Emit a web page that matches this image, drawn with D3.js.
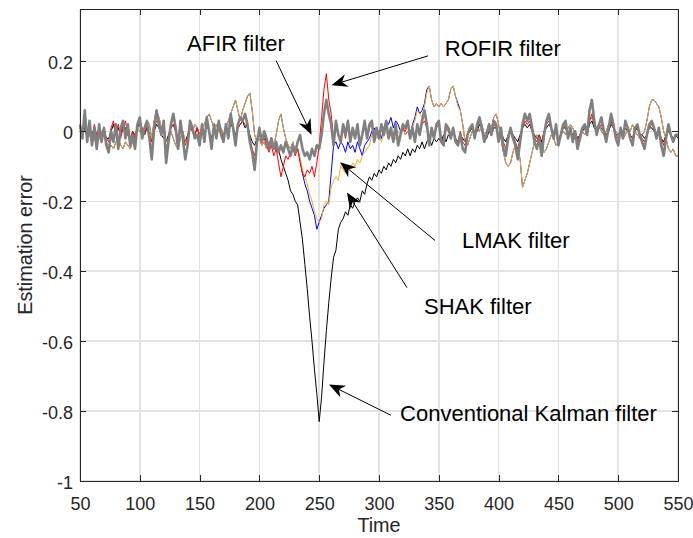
<!doctype html>
<html lang="en">
<head>
<meta charset="UTF-8">
<title>Estimation error</title>
<script src="https://cdn.jsdelivr.net/npm/d3@7"></script>
<style>
  body { margin: 0; background: #fff; }
  text { font-family: "Liberation Sans", Arial, Helvetica, sans-serif; }
</style>
</head>
<body>
<div class="canvas"></div>
<script>
  const time = d3.range(50, 551, 2);

  // AFIR filter (thick gray)
  const afir = [
    0.02, -0.02, 0.06, -0.03, 0.03, -0.04, 0.01, -0.05, 0.02, -0.03,
    0.01, -0.04, -0.06, 0.00, -0.03, 0.02, -0.05, 0.01, 0.03, -0.02,
    0.02, -0.04, -0.01, -0.05, 0.02, 0.04, -0.02, 0.01, 0.03, -0.02,
    -0.08, 0.01, 0.06, 0.02, -0.01, 0.03, -0.09, -0.03, 0.02, 0.05,
    0.01, -0.05, 0.03, -0.02, -0.08, -0.04, 0.03, 0.01, -0.02, -0.01,
    -0.04, 0.02, -0.03, 0.04, 0.00, -0.05, 0.02, -0.02, 0.03, -0.01,
    -0.03, 0.02, -0.02, 0.05, 0.01, -0.04, 0.02, 0.04, 0.03, 0.05,
    0.02, -0.03, -0.06, -0.11, -0.03, 0.01, -0.03, 0.00, -0.02, -0.05,
    -0.02, -0.05, -0.03, -0.06, -0.04, -0.06, -0.03, -0.05, -0.07, -0.04,
    -0.06, -0.03, -0.01, -0.05, -0.07, -0.06, -0.08, -0.05, -0.07, -0.04,
    -0.05, -0.01, 0.05, 0.09, 0.05, 0.02, -0.04, 0.03, -0.01, -0.03,
    0.02, -0.01, 0.03, -0.03, 0.01, -0.02, 0.02, -0.04, -0.01, 0.03,
    -0.02, 0.02, 0.03, -0.03, 0.01, -0.02, 0.02, -0.01, 0.03, -0.02,
    0.01, -0.03, 0.02, -0.04, -0.01, 0.02, 0.01, 0.03, -0.02, 0.01,
    -0.03, 0.02, -0.01, 0.03, 0.06, 0.02, -0.04, 0.01, -0.02, 0.02,
    0.03, -0.03, -0.04, 0.02, 0.01, -0.02, 0.01, -0.03, -0.04, -0.01,
    -0.05, -0.06, -0.01, 0.01, 0.02, -0.02, 0.02, 0.04, 0.01, -0.03,
    -0.01, 0.02, -0.01, 0.03, 0.02, -0.03, 0.01, -0.05, -0.07, -0.02,
    0.01, -0.02, -0.04, -0.08, -0.03, 0.02, 0.05, 0.03, 0.05, 0.01,
    -0.03, -0.05, -0.02, -0.07, -0.01, 0.03, 0.05, 0.01, -0.02, 0.02,
    -0.04, -0.01, 0.02, 0.03, -0.02, 0.01, -0.03, 0.00, -0.05, -0.02,
    0.01, 0.02, -0.01, 0.06, 0.09, 0.03, -0.01, 0.02, 0.04, 0.00,
    -0.03, 0.01, 0.05, 0.02, -0.02, -0.04, 0.01, -0.02, 0.03, 0.01,
    -0.02, -0.04, 0.01, 0.02, -0.01, -0.03, -0.05, -0.01, 0.02, 0.03,
    0.01, -0.02, 0.01, -0.04, -0.07, -0.02, 0.02, -0.01, -0.03, -0.01, -0.01
  ];

  // ROFIR filter (red)
  const rofir = [
    0.01, -0.01, 0.02, -0.02, 0.01, -0.02, 0.02, -0.01, 0.01, -0.02,
    0.00, -0.02, -0.03, 0.01, 0.03, -0.01, 0.02, -0.02, 0.01, 0.03,
    -0.01, -0.03, 0.00, -0.02, 0.01, 0.03, 0.01, -0.01, 0.02, -0.01,
    -0.03, 0.01, 0.03, 0.02, -0.01, 0.01, -0.05, -0.02, 0.01, 0.02,
    0.00, -0.03, 0.02, -0.01, -0.04, -0.02, 0.02, 0.00, -0.01, 0.01,
    -0.02, 0.01, -0.01, 0.02, 0.00, -0.03, 0.01, -0.01, 0.02, 0.00,
    -0.02, 0.01, -0.01, 0.03, 0.01, -0.02, 0.01, 0.02, 0.03, 0.02,
    0.01, -0.02, -0.05, -0.07, -0.03, -0.01, -0.03, -0.02, -0.04, -0.06,
    -0.04, -0.07, -0.05, -0.09, -0.13, -0.10, -0.07, -0.08, -0.06, -0.05,
    -0.07, -0.05, -0.09, -0.12, -0.13, -0.11, -0.12, -0.10, -0.13, -0.09,
    -0.04, 0.04, 0.12, 0.165, 0.09, 0.05, -0.02, 0.02, -0.01, -0.03,
    0.01, -0.02, 0.02, -0.03, 0.00, -0.02, 0.01, -0.03, -0.01, 0.02,
    -0.02, 0.01, 0.02, -0.03, 0.00, -0.02, 0.01, -0.01, 0.02, -0.02,
    0.00, -0.03, 0.01, -0.03, -0.01, 0.01, 0.00, 0.02, -0.02, 0.01,
    -0.02, 0.01, -0.01, 0.02, 0.03, 0.01, -0.02, 0.00, -0.01, 0.01,
    0.02, -0.02, -0.03, 0.01, 0.00, -0.01, 0.01, -0.02, -0.03, 0.00,
    -0.03, -0.04, -0.01, 0.01, 0.01, -0.01, 0.01, 0.03, 0.01, -0.02,
    -0.01, 0.01, -0.01, 0.02, 0.01, -0.02, 0.00, -0.03, -0.05, -0.01,
    0.00, -0.01, -0.03, -0.05, -0.02, 0.01, 0.03, 0.02, 0.03, 0.00,
    -0.02, -0.03, -0.01, -0.04, 0.00, 0.02, 0.03, 0.01, -0.01, 0.01,
    -0.03, -0.01, 0.01, 0.02, -0.01, 0.00, -0.02, 0.00, -0.03, -0.01,
    0.01, 0.01, -0.01, 0.03, 0.05, 0.02, 0.00, 0.01, 0.02, 0.00,
    -0.02, 0.01, 0.03, 0.01, -0.01, -0.02, 0.00, -0.01, 0.02, 0.01,
    -0.01, -0.02, 0.01, 0.01, -0.01, -0.02, -0.03, -0.01, 0.01, 0.02,
    0.01, -0.01, 0.00, -0.02, -0.04, -0.01, 0.01, -0.01, -0.02, -0.01, -0.01
  ];

  // LMAK filter (blue)
  const lmak = [
    0.00, -0.01, 0.02, 0.00, -0.01, -0.03, -0.02, -0.04, -0.02, 0.00,
    -0.01, -0.03, -0.05, -0.04, -0.05, -0.03, -0.02, -0.04, -0.05, -0.03,
    -0.04, -0.05, -0.03, -0.01, 0.01, 0.00, -0.01, 0.01, 0.03, 0.02,
    -0.02, 0.03, 0.06, 0.04, 0.01, 0.02, -0.03, -0.02, 0.00, -0.02,
    -0.04, -0.05, -0.02, 0.00, -0.03, -0.02, 0.01, 0.00, 0.02, 0.01,
    -0.01, 0.01, 0.02, 0.04, 0.05, 0.03, 0.01, 0.02, 0.00, 0.01,
    -0.01, 0.01, 0.03, 0.05, 0.07, 0.09, 0.06, 0.03, 0.06, 0.08,
    0.10, 0.11, 0.06, -0.01, -0.03, -0.02, -0.04, -0.03, -0.05, -0.04,
    -0.02, -0.04, -0.01, 0.03, 0.05, 0.01, -0.02, -0.04, -0.05, -0.03,
    -0.06, -0.05, -0.08, -0.12, -0.15, -0.17, -0.20, -0.22, -0.24, -0.28,
    -0.26, -0.24, -0.22, -0.21, -0.20, -0.12, -0.04, -0.03, -0.05, -0.03,
    -0.04, -0.06, -0.03, -0.05, -0.04, -0.06, -0.03, -0.05, -0.07, -0.04,
    -0.03, -0.02, 0.00, 0.01, -0.01, 0.00, -0.02, 0.01, 0.03, 0.02,
    0.04, 0.01, 0.03, 0.02, 0.00, 0.01, -0.01, 0.00, -0.01, 0.02,
    0.04, 0.07, 0.05, 0.06, 0.08, 0.12, 0.13, 0.09, 0.07, 0.08,
    0.07, 0.08, 0.07, 0.08, 0.09, 0.12, 0.13, 0.10, 0.08, 0.06,
    0.02, -0.03, -0.04, -0.02, 0.00, -0.01, 0.01, 0.00, 0.02, -0.01,
    0.00, 0.02, 0.01, 0.04, 0.05, 0.02, -0.02, -0.06, -0.09, -0.10,
    -0.09, -0.06, -0.04, -0.05, -0.08, -0.16, -0.14, -0.12, -0.09, -0.06,
    -0.03, -0.01, -0.03, -0.04, -0.06, -0.05, -0.03, -0.01, -0.02, -0.04,
    -0.03, -0.01, 0.00, -0.01, 0.01, 0.02, 0.01, -0.01, -0.03, -0.02,
    0.00, -0.01, 0.01, 0.03, 0.04, 0.02, 0.01, 0.02, 0.00, -0.01,
    0.00, 0.02, 0.03, 0.01, 0.00, -0.01, 0.00, -0.02, -0.01, 0.01,
    0.00, 0.02, 0.00, -0.01, -0.02, -0.01, 0.00, 0.03, 0.07, 0.09,
    0.09, 0.08, 0.07, 0.04, 0.00, -0.02, -0.05, -0.06, -0.05, -0.07, -0.07
  ];

  // SHAK filter (orange)
  const shak = [
    0.00, -0.01, 0.02, 0.00, -0.01, -0.03, -0.02, -0.04, -0.02, 0.00,
    -0.01, -0.03, -0.05, -0.04, -0.05, -0.03, -0.02, -0.04, -0.05, -0.03,
    -0.04, -0.05, -0.03, -0.01, 0.01, 0.00, -0.01, 0.01, 0.03, 0.02,
    -0.02, 0.03, 0.06, 0.04, 0.01, 0.02, -0.03, -0.02, 0.00, -0.02,
    -0.04, -0.05, -0.02, 0.00, -0.03, -0.02, 0.01, 0.00, 0.02, 0.01,
    -0.01, 0.01, 0.02, 0.04, 0.05, 0.03, 0.01, 0.02, 0.00, 0.01,
    -0.01, 0.01, 0.03, 0.05, 0.07, 0.09, 0.06, 0.03, 0.06, 0.08,
    0.10, 0.11, 0.06, -0.01, -0.03, -0.02, -0.04, -0.03, -0.05, -0.04,
    -0.02, -0.04, -0.01, 0.03, 0.05, 0.01, -0.02, -0.04, -0.05, -0.03,
    -0.06, -0.05, -0.08, -0.11, -0.13, -0.15, -0.18, -0.20, -0.23, -0.25,
    -0.26, -0.25, -0.21, -0.20, -0.21, -0.16, -0.14, -0.13, -0.14, -0.10,
    -0.11, -0.12, -0.10, -0.11, -0.09, -0.10, -0.08, -0.09, -0.07, -0.06,
    -0.05, -0.04, -0.01, 0.00, -0.02, -0.01, -0.03, -0.01, 0.00, -0.02,
    -0.01, -0.03, -0.02, 0.00, -0.01, 0.01, -0.01, 0.00, -0.02, 0.01,
    0.03, 0.06, 0.05, 0.04, 0.07, 0.11, 0.13, 0.09, 0.07, 0.08,
    0.07, 0.08, 0.07, 0.08, 0.09, 0.12, 0.13, 0.10, 0.07, 0.06,
    0.02, -0.03, -0.04, -0.02, 0.00, -0.01, 0.01, 0.00, 0.02, -0.01,
    0.00, 0.02, 0.01, 0.04, 0.05, 0.02, -0.02, -0.06, -0.09, -0.10,
    -0.09, -0.06, -0.04, -0.05, -0.08, -0.16, -0.14, -0.12, -0.09, -0.06,
    -0.03, -0.01, -0.03, -0.04, -0.06, -0.05, -0.03, -0.01, -0.02, -0.04,
    -0.03, -0.01, 0.00, -0.01, 0.01, 0.02, 0.01, -0.01, -0.03, -0.02,
    0.00, -0.01, 0.01, 0.03, 0.04, 0.02, 0.01, 0.02, 0.00, -0.01,
    0.00, 0.02, 0.03, 0.01, 0.00, -0.01, 0.00, -0.02, -0.01, 0.01,
    0.00, 0.02, 0.00, -0.01, -0.02, -0.01, 0.00, 0.03, 0.07, 0.09,
    0.09, 0.08, 0.07, 0.04, 0.00, -0.02, -0.05, -0.06, -0.05, -0.07, -0.07
  ];

  // Conventional Kalman filter (black)
  const kalman = [
    0.00, -0.01, 0.01, -0.02, 0.01, -0.01, 0.01, -0.02, 0.00, -0.01,
    0.01, -0.02, -0.02, 0.00, 0.02, -0.01, 0.01, -0.01, 0.02, 0.01,
    -0.01, -0.02, 0.00, -0.01, 0.01, 0.02, 0.00, -0.01, 0.01, -0.01,
    -0.03, 0.00, 0.02, 0.01, -0.01, -0.02, -0.03, -0.01, 0.01, 0.02,
    0.00, -0.02, 0.01, -0.01, -0.03, -0.01, 0.01, 0.00, -0.01, 0.01,
    -0.01, 0.01, -0.01, 0.02, 0.00, -0.02, 0.01, 0.00, 0.01, -0.01,
    -0.01, 0.01, 0.00, 0.02, 0.01, -0.01, 0.01, 0.02, 0.03, 0.01,
    0.02, -0.01, -0.03, -0.04, -0.02, -0.01, -0.02, -0.01, -0.03, -0.04,
    -0.03, -0.04, -0.05, -0.05, -0.08, -0.10, -0.12, -0.14, -0.17, -0.18,
    -0.20, -0.21, -0.26, -0.31, -0.38, -0.45, -0.53, -0.60, -0.68, -0.75,
    -0.83, -0.76, -0.66, -0.57, -0.49, -0.42, -0.36, -0.34, -0.28, -0.26,
    -0.25, -0.23, -0.24, -0.21, -0.22, -0.20, -0.19, -0.20, -0.17, -0.18,
    -0.15, -0.13, -0.14, -0.12, -0.13, -0.11, -0.12, -0.10, -0.11, -0.09,
    -0.10, -0.08, -0.09, -0.07, -0.08, -0.06, -0.07, -0.05, -0.07, -0.05,
    -0.06, -0.04, -0.05, -0.03, -0.05, -0.03, -0.02, -0.04, -0.02, -0.03,
    -0.02, -0.03, -0.01, -0.03, -0.01, -0.02, 0.00, -0.02, -0.03, -0.01,
    -0.02, -0.03, -0.01, 0.00, 0.01, -0.01, 0.00, 0.02, 0.01, -0.01,
    -0.02, 0.00, -0.01, 0.01, 0.01, -0.01, 0.00, -0.02, -0.03, -0.01,
    0.00, -0.01, -0.02, -0.03, -0.01, 0.01, 0.02, 0.01, 0.02, 0.00,
    -0.01, -0.02, -0.01, -0.03, 0.00, 0.01, 0.02, 0.01, -0.01, 0.00,
    -0.02, -0.01, 0.01, 0.01, -0.01, 0.00, -0.01, 0.00, -0.02, -0.01,
    0.00, 0.01, -0.01, 0.02, 0.03, 0.01, 0.00, 0.01, 0.01, 0.00,
    -0.01, 0.00, 0.02, 0.01, -0.01, -0.01, 0.00, -0.01, 0.01, 0.00,
    -0.01, -0.02, 0.00, 0.01, -0.01, -0.01, -0.02, -0.01, 0.01, 0.01,
    0.00, -0.01, 0.00, -0.02, -0.03, -0.01, 0.00, -0.01, -0.02, -0.01, -0.02
  ];

  const xTicks = [50, 100, 150, 200, 250, 300, 350, 400, 450, 500, 550];
  const xTickLabels = ['50', '100', '150', '200', '250', '300', '350', '400', '450', '500', '550'];
  const yTicks = [-1, -0.8, -0.6, -0.4, -0.2, 0, 0.2];
  const yTickLabels = ['-1', '-0.8', '-0.6', '-0.4', '-0.2', '0', '0.2'];

  // annotation text + arrow, in data units (time, error)
  const notes = [
    { label: 'AFIR filter', at: [139.5, 0.231], tail: [214, 0.202], tip: [243.6, -0.010] },
    { label: 'ROFIR filter', at: [355, 0.216], tail: [341, 0.216], tip: [260.3, 0.132] },
    { label: 'LMAK filter', at: [369.4, -0.335], tail: [346.8, -0.312], tip: [267.4, -0.088] },
    { label: 'SHAK filter', at: [337.6, -0.521], tail: [323.4, -0.447], tip: [273.2, -0.175] },
    { label: 'Conventional Kalman filter', at: [317.6, -0.827], tail: [310, -0.812], tip: [258.2, -0.724] }
  ];

  const width = 693;
  const height = 538;
  let [mt, mr, mb, ml] = [9, 15, 57, 80];
  const graphWidth = width - ml - mr;
  const graphHeight = height - mt - mb;

  const svg = d3.select('.canvas').append('svg')
    .attr('width', width)
    .attr('height', height);

  const graph = svg.append('g')
    .attr('transform', `translate(${ml}, ${mt})`);

  const x = d3.scaleLinear().domain([50, 550]).range([0, graphWidth]);
  const y = d3.scaleLinear().domain([-1, 0.35]).range([graphHeight, 0]);

  // grid
  const grid = graph.append('g').attr('shape-rendering', 'crispEdges');
  grid.selectAll('.gx').data(xTicks).enter().append('line')
    .attr('x1', d => x(d)).attr('x2', d => x(d))
    .attr('y1', 0).attr('y2', graphHeight)
    .attr('stroke', '#e3e3e3').attr('stroke-width', 1.5);
  grid.selectAll('.gy').data(yTicks).enter().append('line')
    .attr('y1', d => y(d)).attr('y2', d => y(d))
    .attr('x1', 0).attr('x2', graphWidth)
    .attr('stroke', '#e3e3e3').attr('stroke-width', 1.5);

  // series
  const series = [
    { values: kalman, color: '#000000', w: 1 },
    { values: lmak, color: '#0000ff', w: 1 },
    { values: shak, color: '#edb120', w: 1 },
    { values: rofir, color: '#ff0000', w: 1 },
    { values: afir, color: '#808080', w: 2.6 }
  ];
  const line = d3.line()
    .x((d, i) => x(time[i]))
    .y(d => y(d));

  graph.selectAll('.series').data(series).enter().append('path')
    .attr('d', s => line(s.values))
    .attr('fill', 'none')
    .attr('stroke', s => s.color)
    .attr('stroke-width', s => s.w)
    .attr('stroke-linejoin', 'round');

  // axes, ticks pointing inward on all four sides
  const xAxisG = graph.append('g').attr('transform', `translate(0, ${graphHeight})`)
    .call(d3.axisBottom(x).tickValues(xTicks).tickSize(-6).tickPadding(16)
      .tickFormat((d, i) => xTickLabels[i]));
  const yAxisG = graph.append('g')
    .call(d3.axisLeft(y).tickValues(yTicks).tickSize(-6).tickPadding(7)
      .tickFormat((d, i) => yTickLabels[i]));
  const topG = graph.append('g')
    .call(d3.axisTop(x).tickValues(xTicks).tickSize(-6).tickFormat(''));
  const rightG = graph.append('g').attr('transform', `translate(${graphWidth}, 0)`)
    .call(d3.axisRight(y).tickValues(yTicks).tickSize(-6).tickFormat(''));

  [xAxisG, yAxisG, topG, rightG].forEach(g => {
    g.select('.domain').remove();
    g.selectAll('line').attr('stroke', '#262626').attr('shape-rendering', 'crispEdges');
    g.selectAll('text').attr('fill', '#262626').style('font-size', '18px');
  });
  yAxisG.selectAll('text').attr('dy', '0.4em');

  graph.append('rect')
    .attr('width', graphWidth).attr('height', graphHeight)
    .attr('fill', 'none').attr('stroke', '#262626')
    .attr('shape-rendering', 'crispEdges');

  // axis labels
  svg.append('text')
    .attr('x', ml + graphWidth / 2).attr('y', 532)
    .attr('text-anchor', 'middle')
    .attr('fill', '#262626')
    .style('font-size', '19.8px')
    .text('Time');

  svg.append('text')
    .attr('transform', `translate(32, ${mt + graphHeight / 2}) rotate(-90)`)
    .attr('text-anchor', 'middle')
    .attr('fill', '#262626')
    .style('font-size', '19.8px')
    .text('Estimation error');

  // annotations
  function head(tail, tip) {
    const dx = tip[0] - tail[0], dy = tip[1] - tail[1];
    const len = Math.hypot(dx, dy);
    const ux = dx / len, uy = dy / len;
    const px = -uy, py = ux;
    const L = 16, W = 6.5, N = 11;
    const bx = tip[0] - ux * L, by = tip[1] - uy * L;
    const nx = tip[0] - ux * N, ny = tip[1] - uy * N;
    return {
      d: `M${tip[0]},${tip[1]}L${bx + px * W},${by + py * W}L${nx},${ny}L${bx - px * W},${by - py * W}Z`,
      notch: [nx, ny]
    };
  }

  const ann = graph.append('g');
  notes.forEach(n => {
    const tail = [x(n.tail[0]), y(n.tail[1])];
    const tip = [x(n.tip[0]), y(n.tip[1])];
    const h = head(tail, tip);
    ann.append('line')
      .attr('x1', tail[0]).attr('y1', tail[1])
      .attr('x2', h.notch[0]).attr('y2', h.notch[1])
      .attr('stroke', '#000').attr('stroke-width', 1);
    ann.append('path').attr('d', h.d).attr('fill', '#000');
    ann.append('text')
      .attr('x', x(n.at[0])).attr('y', y(n.at[1]))
      .attr('fill', '#000')
      .style('font-size', '22px')
      .text(n.label);
  });
</script>
</body>
</html>
